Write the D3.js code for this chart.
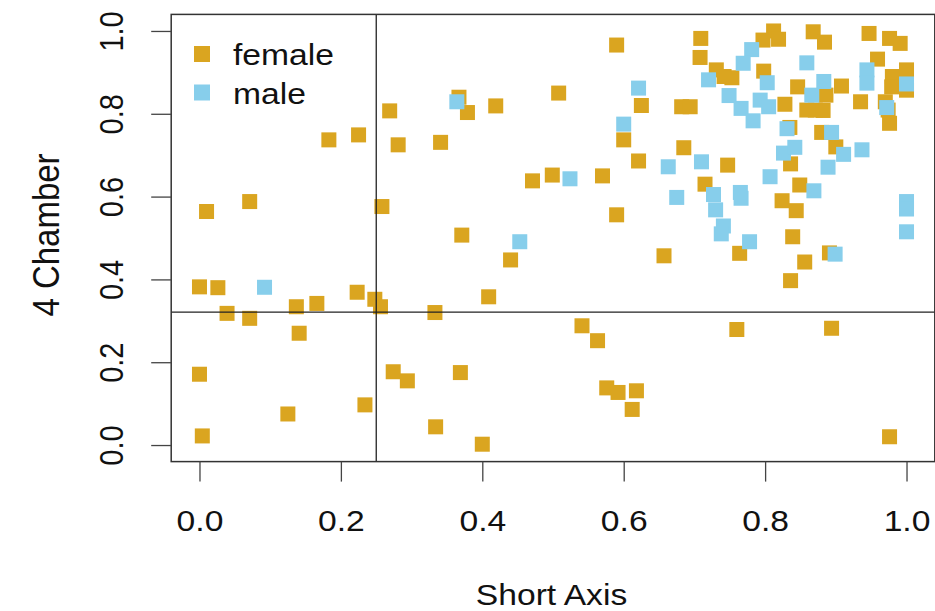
<!DOCTYPE html>
<html>
<head>
<meta charset="utf-8">
<script src="https://cdn.jsdelivr.net/npm/d3@7"></script>
<style>
html,body{margin:0;padding:0;background:#fff;}
svg{display:block;}
text{font-family:"Liberation Sans",Arial,Helvetica,sans-serif;fill:#111;}
</style>
</head>
<body>
<svg id="chart" width="935" height="611"></svg>
<script>
// ---- data ----
const femaleX = [0.269,0.225,0.183,0.281,0.010,0.071,0.258,0.000,0.026,0.039,0.071,0.137,0.166,0.141,0.223,0.248,0.256,0.333,0.000,0.004,0.125,0.234,0.274,0.294,0.334,
  0.590,0.625,0.367,0.379,0.419,0.508,0.600,0.621,0.341,0.471,0.499,0.570,0.590,0.371,0.440,0.409,0.657,0.541,0.563,0.369,0.576,0.592,0.618,0.612,0.400,
  0.760,0.894,0.976,0.715,0.849,0.824,0.844,0.764,0.839,0.891,0.856,0.836,0.709,0.708,0.731,0.742,0.753,0.797,0.812,0.819,0.868,0.884,0.947,0.976,0.991,
  0.959,0.798,1.000,0.980,0.846,0.908,0.979,1.000,0.886,0.935,0.970,0.682,0.694,0.828,0.859,0.871,0.882,0.974,0.976,0.835,0.880,0.900,0.685,0.747,0.836];
const femaleY = [0.807,0.749,0.737,0.725,0.564,0.588,0.576,0.382,0.380,0.318,0.306,0.334,0.342,0.270,0.369,0.352,0.334,0.320,0.171,0.022,0.075,0.097,0.177,0.155,0.044,
  0.966,0.820,0.840,0.803,0.819,0.850,0.737,0.686,0.731,0.638,0.652,0.650,0.556,0.507,0.447,0.358,0.457,0.288,0.252,0.175,0.138,0.127,0.131,0.086,0.002,
  0.279,0.282,0.020,0.630,0.628,0.590,0.566,0.463,0.503,0.464,0.442,0.397,0.982,0.936,0.906,0.890,0.887,0.978,1.000,0.980,0.998,0.973,0.994,0.982,0.970,
  0.932,0.903,0.906,0.890,0.865,0.867,0.865,0.857,0.845,0.829,0.829,0.817,0.817,0.823,0.809,0.809,0.808,0.809,0.777,0.767,0.755,0.720,0.718,0.676,0.679];
const maleX = [0.092,0.364,0.621,0.600,0.663,0.675,0.524,0.453,0.889,0.807,0.869,0.727,0.765,0.766,0.730,0.741,0.738,0.778,0.899,1.000,1.000,1.000,
  0.781,0.769,0.720,0.859,0.803,0.749,0.766,0.783,0.793,0.805,0.883,0.866,0.944,0.944,1.000,0.972,0.831,0.894,0.710,0.826,0.842,0.911,0.937];
const maleY = [0.381,0.829,0.862,0.775,0.672,0.598,0.643,0.491,0.671,0.648,0.614,0.605,0.610,0.596,0.568,0.529,0.510,0.491,0.461,0.588,0.570,0.515,
  0.955,0.922,0.882,0.923,0.875,0.844,0.813,0.783,0.833,0.817,0.878,0.845,0.906,0.874,0.872,0.815,0.764,0.755,0.684,0.705,0.719,0.702,0.713];
const tickValues = [0,0.2,0.4,0.6,0.8,1.0];
const cutX = 0.25;
const cutY = 0.321;
const groups = ["female","male"];
const colors = ["#DAA520","#87CEEB"];
const xTitle = "Short Axis";
const yTitle = "4 Chamber";

(function(){
// ---- layout ----
const svg = d3.select("#chart");
const pL = 171.2, pR = 934.8, pT = 14.4, pB = 461.6;
const x = d3.scaleLinear().domain([-0.04,1.04]).range([pL,pR]);
const y = d3.scaleLinear().domain([-0.04,1.04]).range([pB,pT]);
const sx = 1.16;
const fs = 29;
const sq = 15;

const color = d3.scaleOrdinal().domain(groups).range(colors);
const pts = [];
femaleX.forEach((v,i)=>pts.push({g:"female",x:v,y:femaleY[i]}));
maleX.forEach((v,i)=>pts.push({g:"male",x:v,y:maleY[i]}));

svg.append("g").selectAll("rect").data(pts).join("rect")
  .attr("x",d=>x(d.x)-sq/2).attr("y",d=>y(d.y)-sq/2)
  .attr("width",sq).attr("height",sq)
  .attr("fill",d=>color(d.g));

// reference lines
svg.append("line").attr("x1",pL).attr("x2",pR).attr("y1",y(cutY)).attr("y2",y(cutY))
  .attr("stroke","#222").attr("stroke-width",1.3);
svg.append("line").attr("x1",x(cutX)).attr("x2",x(cutX)).attr("y1",pT).attr("y2",pB)
  .attr("stroke","#222").attr("stroke-width",1.3);

// box
svg.append("rect").attr("x",pL).attr("y",pT).attr("width",pR-pL).attr("height",pB-pT)
  .attr("fill","none").attr("stroke","#333").attr("stroke-width",1.5);

// axes
const xa = svg.append("g").attr("transform",`translate(0,${pB})`)
  .call(d3.axisBottom(x).tickValues(tickValues).tickSize(20).tickSizeOuter(0).tickFormat(d3.format(".1f")));
xa.select(".domain").remove();
xa.selectAll("line").attr("stroke","#444").attr("stroke-width",1.3);
xa.selectAll("text").attr("y",null).attr("dy",null).attr("fill","#111")
  .style("font-size",fs+"px").attr("text-anchor","middle")
  .attr("transform",`translate(0,69.5) scale(${sx},1)`);

const ya = svg.append("g").attr("transform",`translate(${pL},0)`)
  .call(d3.axisLeft(y).tickValues(tickValues).tickSize(20).tickSizeOuter(0).tickFormat(d3.format(".1f")));
ya.select(".domain").remove();
ya.selectAll("line").attr("stroke","#444").attr("stroke-width",1.3);
ya.selectAll("text").attr("x",null).attr("dy",null).attr("fill","#111")
  .style("font-size",fs+"px").attr("text-anchor","middle")
  .attr("transform",`translate(-48,0) rotate(-90) scale(1,${sx})`);

// titles
svg.append("text").text(xTitle).attr("text-anchor","middle").style("font-size",fs+"px")
  .attr("transform",`translate(551.5,605) scale(${sx},1)`);
svg.append("text").text(yTitle).attr("text-anchor","middle").style("font-size","33px")
  .attr("transform",`translate(59,235) rotate(-90) scale(1,1.1)`);

// legend
const lg = svg.append("g");
groups.forEach((g,i)=>{
  const cy = 54 + i*38.5;
  lg.append("rect").attr("x",202-8).attr("y",cy-8).attr("width",16).attr("height",16).attr("fill",color(g));
  lg.append("text").text(g).style("font-size",fs+"px")
    .attr("transform",`translate(233,${cy+11}) scale(${sx},1)`);
});
})();
</script>
</body>
</html>
